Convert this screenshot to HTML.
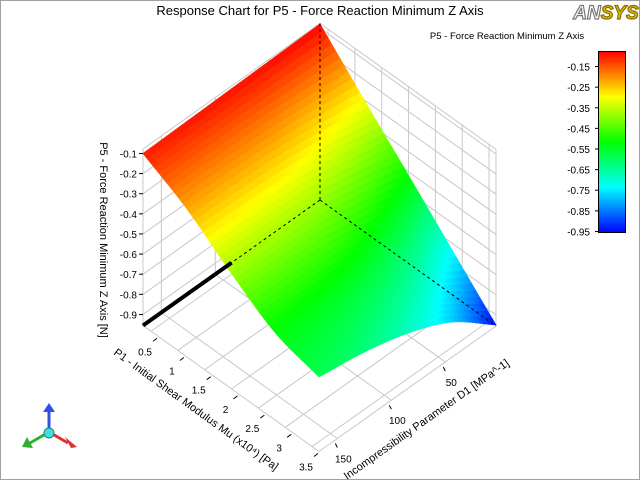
<!DOCTYPE html>
<html><head><meta charset="utf-8"><style>
body{margin:0;background:#fff}
svg{display:block;font-family:"Liberation Sans","DejaVu Sans",sans-serif}
</style></head><body>
<svg id="chart" width="640" height="480" viewBox="0 0 640 480">
<rect x="0.5" y="0.5" width="639" height="479" fill="#fff" stroke="#a0a0a0"/>
<text x="320" y="15" font-size="13" text-anchor="middle" fill="#000">Response Chart for P5 - Force Reaction Minimum Z Axis</text>
<g><text x="606" y="19" font-size="19" font-weight="bold" text-anchor="middle" fill="#fff" stroke="#777" stroke-width="1.2" font-style="italic">AN<tspan fill="#e8c000" stroke="#8a6d00">SYS</tspan></text></g>
<text x="507" y="39" font-size="9.5" text-anchor="middle" fill="#000">P5 - Force Reaction Minimum Z Axis</text>
<defs><linearGradient id="cb" x1="0" y1="0" x2="0" y2="1">
<stop offset="0" stop-color="#ff0000"/><stop offset="0.25" stop-color="#ffff00"/><stop offset="0.5" stop-color="#00ff00"/><stop offset="0.75" stop-color="#00ffff"/><stop offset="1" stop-color="#0000ff"/></linearGradient></defs>
<rect x="598.5" y="51.5" width="27" height="181" fill="url(#cb)" stroke="#000"/>
<g id="cbticks"></g>
<g id="grid"></g>
<g id="surface"></g>
<g id="over"></g>
<g id="axes"></g>
<g>
<line x1="49" y1="432" x2="49" y2="410" stroke="#3050e0" stroke-width="3"/><polygon points="43,412 55,412 49,403" fill="#3050e0"/>
<line x1="49" y1="432" x2="30" y2="443" stroke="#30b030" stroke-width="3"/><polygon points="27,437 33,448 22,447" fill="#30b030"/>
<line x1="49" y1="432" x2="68" y2="443" stroke="#e03030" stroke-width="3"/><polygon points="65,437 71,448 77,447" fill="#e03030"/>
<circle cx="49" cy="433" r="5" fill="#40e0e0" stroke="#208080"/>
</g>
</svg>
<script>
const muVals=[0.35,1.17,1.99,2.81,3.63];
const d1Vals=[3,44,85,126,167];
// zGrid[i][j]: i over mu, j over D1
const zGrid=[
[-0.08,-0.085,-0.09,-0.095,-0.10],
[-0.30,-0.265,-0.237,-0.226,-0.22],
[-0.515,-0.45,-0.405,-0.388,-0.38],
[-0.733,-0.625,-0.56,-0.532,-0.52],
[-0.95,-0.78,-0.68,-0.62,-0.585]];
const zTicks=[-0.9,-0.8,-0.7,-0.6,-0.5,-0.4,-0.3,-0.2,-0.1];
const muTicks=[0.5,1,1.5,2,2.5,3,3.5];
const d1Ticks=[50,100,150];
const cbTicks=[-0.15,-0.25,-0.35,-0.45,-0.55,-0.65,-0.75,-0.85,-0.95];
const Z0=-0.955,Z1=-0.077;
const MU0=muVals[0],MU1=muVals[muVals.length-1],D0=d1Vals[0],D1=d1Vals[d1Vals.length-1];
const NS='http://www.w3.org/2000/svg';
function uOf(m){return (m-MU0)/(MU1-MU0);}
function W(d){return (d-D0)/(D1-D0);}
function P(u,v,z){
  const x=320+176*u-177*v, yf=200+126*u+125.5*v;
  return [x, yf-(z-Z0)*201.2];
}
function mk(tag,attrs,parent){const e=document.createElementNS(NS,tag);for(const k in attrs)e.setAttribute(k,attrs[k]);parent.appendChild(e);return e;}
function col(z){let t=(z-Z0)/(Z1-Z0);t=Math.max(0,Math.min(1,t));
 const st=[[0,0,0,255],[.25,0,255,255],[.5,0,255,0],[.75,255,255,0],[1,255,0,0]];
 for(let k=0;k<4;k++){if(t<=st[k+1][0]){const f=(t-st[k][0])/(st[k+1][0]-st[k][0]);
 const c=[1,2,3].map(q=>Math.round(st[k][q]+(st[k+1][q]-st[k][q])*f));return `rgb(${c})`;}}
 return 'rgb(255,0,0)';}
const grid=document.getElementById('grid'),surf=document.getElementById('surface'),over=document.getElementById('over'),axes=document.getElementById('axes'),cbt=document.getElementById('cbticks');
function ln(p,q,st,par,name){const e=mk('line',{x1:p[0],y1:p[1],x2:q[0],y2:q[1],stroke:st.c||'#c8c8c8','stroke-width':st.w||1},par);if(st.d)e.setAttribute('stroke-dasharray',st.d);
 
 return e;}
const g={c:'#c8c8c8'};
zTicks.concat([Z1]).forEach(z=>{ln(P(0,0,z),P(0,1,z),g,grid,'left-wall-gridline');ln(P(0,0,z),P(1,0,z),g,grid,'right-wall-gridline');});
muTicks.forEach(m=>{const u=uOf(m);ln(P(u,0,Z0),P(u,0,Z1),g,grid,'right-wall-vline');ln(P(u,0,Z0),P(u,1,Z0),g,grid,'floor-mu-gridline');});
d1Ticks.forEach(d=>{const w=W(d);ln(P(0,w,Z0),P(0,w,Z1),g,grid,'left-wall-vline');ln(P(0,w,Z0),P(1,w,Z0),g,grid,'floor-d1-gridline');});
ln(P(0,1,Z0),P(0,1,Z1),g,grid,'box-edge');ln(P(1,0,Z0),P(1,0,Z1),g,grid,'box-edge');
ln(P(0,1,Z0),P(1,1,Z0),g,grid,'box-edge');ln(P(1,0,Z0),P(1,1,Z0),g,grid,'box-edge');
function cr(p0,p1,p2,p3,t){return 0.5*((2*p1)+(-p0+p2)*t+(2*p0-5*p1+4*p2-p3)*t*t+(-p0+3*p1-3*p2+p3)*t*t*t);}
function interp(arr,f){const n=arr.length-1;let i=Math.min(n-1,Math.floor(f));const t=f-i;
 const g=k=>{if(k<0)return 2*arr[0]-arr[1];if(k>n)return 2*arr[n]-arr[n-1];return arr[k];};
 return cr(g(i-1),g(i),g(i+1),g(i+2),t);}
function zAt(u,w){const ni=muVals.length-1,nj=d1Vals.length-1;
 const row=zGrid.map(r=>interp(r,w*nj));
 return interp(row,u*ni);}
const N=44,quads=[];
for(let i=0;i<N;i++)for(let j=0;j<N;j++)quads.push([i,j]);
quads.sort((p,q)=>(p[0]+p[1])-(q[0]+q[1]));
quads.forEach(([i,j])=>{const u0=i/N,u1=(i+1)/N,w0=j/N,w1=(j+1)/N;
 const pts=[[u0,w0],[u1,w0],[u1,w1],[u0,w1]].map(([u,w])=>P(u,w,zAt(u,w)));
 const c=col(zAt((u0+u1)/2,(w0+w1)/2));
 const e=mk('polygon',{points:pts.map(p=>p.join(',')).join(' '),fill:c,stroke:c,'stroke-width':0.6},surf);
 
 });
const dk={c:'#000',d:'3,3'};
ln(P(0,0,Z0),P(0,0,Z1),dk,over,'back-vertical-edge');
ln(P(0,0,Z0),P(0,1,Z0),dk,over,'back-left-floor-edge');
ln(P(0,0,Z0),P(1,0,Z0),dk,over,'back-right-floor-edge');
ln(P(0,1,Z0),P(0,0.5,Z0),{c:'#000',w:4},over,'front-left-floor-edge');
zTicks.forEach(z=>{const p=P(0,1,z);ln([p[0]-4,p[1]],p,{c:'#000'},axes,'z-tick');
 const t=mk('text',{x:p[0]-6,y:p[1]+4,'font-size':10,'text-anchor':'end'},axes);t.textContent=z.toFixed(1);
 
 });
const zt=mk('text',{x:0,y:0,'font-size':11,'text-anchor':'middle',transform:'translate(100,240) rotate(90)'},axes);
zt.textContent='P5 - Force Reaction Minimum Z Axis  [N]';


muTicks.forEach(m=>{const p=P(uOf(m),1,Z0);ln([p[0]+2,p[1]+10],[p[0]+6,p[1]+7],{c:'#000'},axes,'mu-tick');
 const t=mk('text',{x:p[0]-6,y:p[1]+24,'font-size':10,'text-anchor':'middle'},axes);t.textContent=String(m);
 
 });
const mt=mk('text',{x:0,y:0,'font-size':11,transform:'translate(113,354) rotate(35.8)'},axes);
mt.textContent='P1 - Initial Shear Modulus Mu  (x10\u2074) [Pa]';


d1Ticks.forEach(d=>{const p=P(1,W(d),Z0);ln([p[0]-2,p[1]+5],[p[0],p[1]+9],{c:'#000'},axes,'d1-tick');
 const t=mk('text',{x:p[0]+6,y:p[1]+24,'font-size':10,'text-anchor':'middle'},axes);t.textContent=String(d);
 
 });
const dt=mk('text',{x:0,y:0,'font-size':11,transform:'translate(347,480) rotate(-35.3)'},axes);
dt.textContent='Incompressibility Parameter D1  [MPa^-1]';


cbTicks.forEach(v=>{const y=51.5+(Z1-v)/(Z1-Z0)*181;ln([595,y],[598,y],{c:'#000'},cbt,'colorbar-tick');
 const t=mk('text',{x:590,y:y+4,'font-size':10,'text-anchor':'end'},cbt);t.textContent=v.toFixed(2);
 
 });
</script>
</body></html>
